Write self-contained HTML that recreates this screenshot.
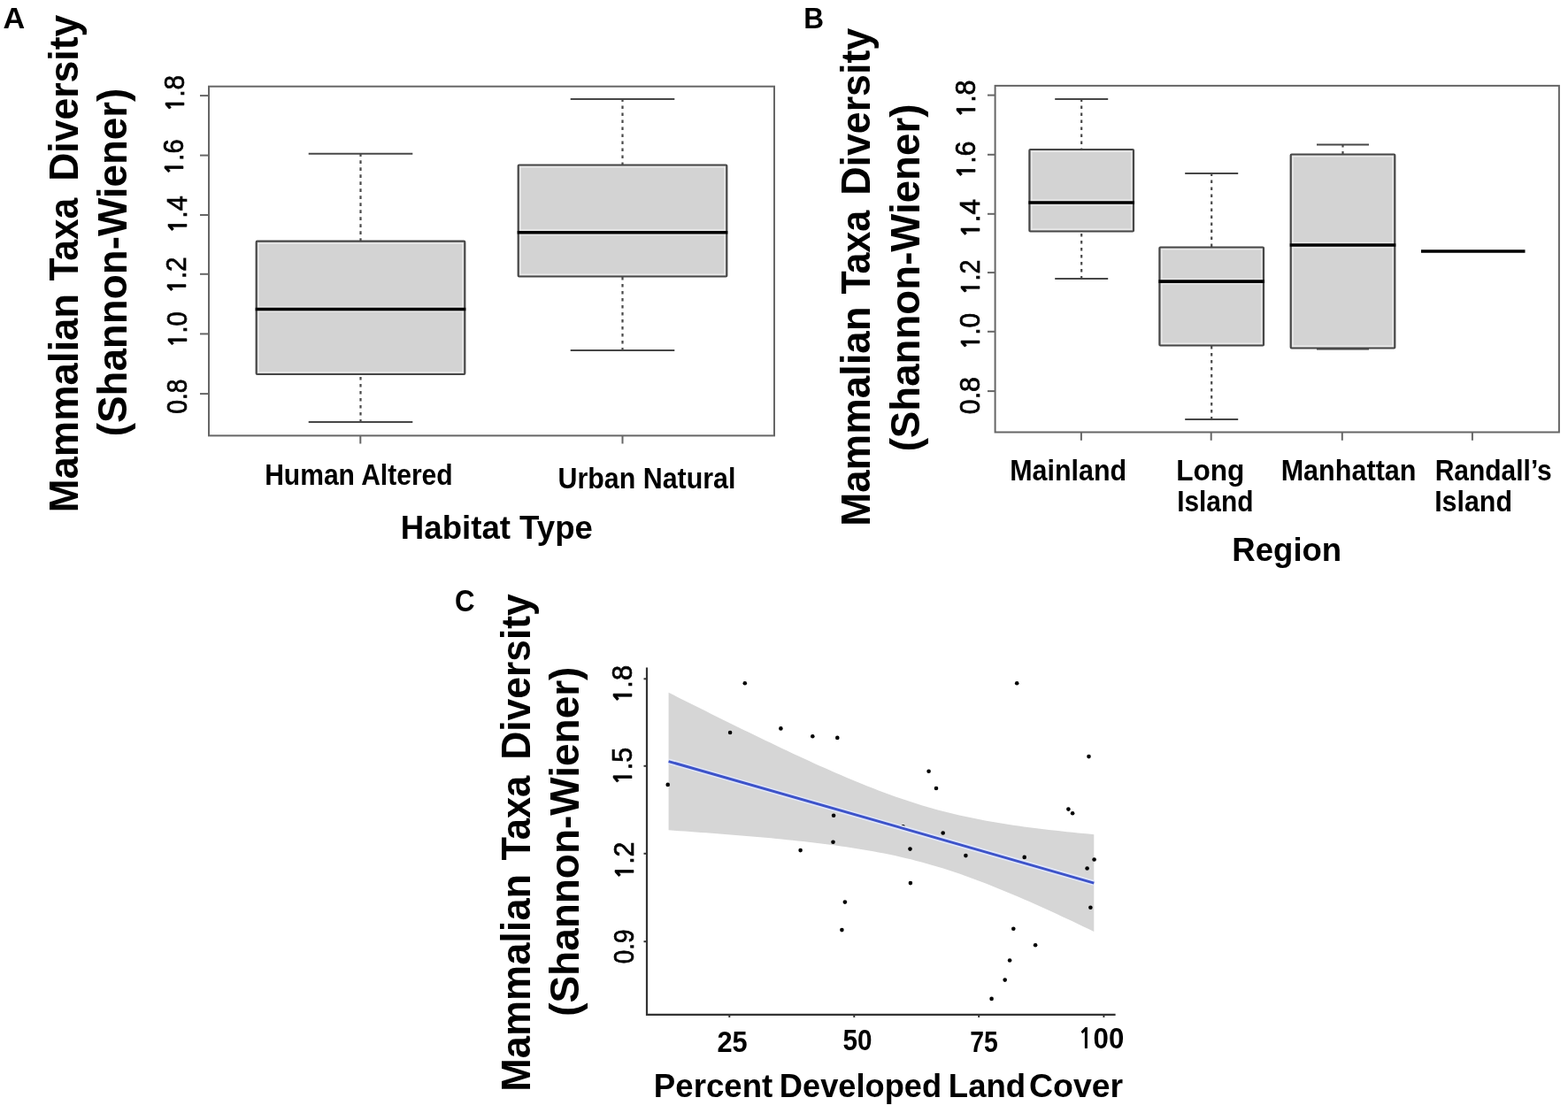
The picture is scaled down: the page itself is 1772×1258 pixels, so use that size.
<!DOCTYPE html>
<html><head><meta charset="utf-8"><title>Mammalian taxa diversity figure</title>
<style>
html,body{margin:0;padding:0;background:#fff;}
svg{display:block;}
text{font-family:"Liberation Sans",Arial,Helvetica,sans-serif;fill:#000;}
text.tick{stroke:#000;stroke-width:0.7px;}
tspan.one{font-family:"NanumGothic","Liberation Sans",sans-serif;font-weight:bold;font-size:92.7%;}
text.tick tspan.one{stroke-width:0.6px;}
</style></head>
<body>
<svg width="1772" height="1258" viewBox="0 0 1772 1258">
<rect x="0" y="0" width="1772" height="1258" fill="#fff"/>
<rect x="236" y="97.7" width="639" height="394.7" fill="none" stroke="#666" stroke-width="2"/>
<line x1="226" y1="108.1" x2="236" y2="108.1" stroke="#666" stroke-width="2"/>
<line x1="226" y1="175.6" x2="236" y2="175.6" stroke="#666" stroke-width="2"/>
<line x1="226" y1="243.0" x2="236" y2="243.0" stroke="#666" stroke-width="2"/>
<line x1="226" y1="309.8" x2="236" y2="309.8" stroke="#666" stroke-width="2"/>
<line x1="226" y1="377.4" x2="236" y2="377.4" stroke="#666" stroke-width="2"/>
<line x1="226" y1="445.1" x2="236" y2="445.1" stroke="#666" stroke-width="2"/>
<line x1="407.3" y1="492.4" x2="407.3" y2="501.5" stroke="#666" stroke-width="2"/>
<line x1="703.5" y1="492.4" x2="703.5" y2="501.5" stroke="#666" stroke-width="2"/>
<line x1="407.5" y1="173.8" x2="407.5" y2="272.7" stroke="#4a4a4a" stroke-width="2.2" stroke-dasharray="3.6 4.4" stroke-dashoffset="0.5"/>
<line x1="348.7" y1="173.8" x2="466.3" y2="173.8" stroke="#474747" stroke-width="2"/>
<line x1="407.5" y1="477.0" x2="407.5" y2="423.0" stroke="#4a4a4a" stroke-width="2.2" stroke-dasharray="3.6 4.4" stroke-dashoffset="0.5"/>
<line x1="348.7" y1="477.0" x2="466.3" y2="477.0" stroke="#474747" stroke-width="2"/>
<rect x="289.7" y="272.7" width="235.6" height="150.3" fill="#d3d3d3"/>
<rect x="292.0" y="275.0" width="231" height="145.7" fill="none" stroke="#e8e8e8" stroke-width="1.6"/>
<line x1="290.7" y1="346.8" x2="524.3" y2="346.8" stroke="#e6e6e6" stroke-width="1.6"/>
<line x1="290.7" y1="352.2" x2="524.3" y2="352.2" stroke="#e6e6e6" stroke-width="1.6"/>
<rect x="289.7" y="272.7" width="235.6" height="150.3" fill="none" stroke="#474747" stroke-width="2.2" rx="1"/>
<line x1="288.7" y1="349.5" x2="526.3" y2="349.5" stroke="#000" stroke-width="3.6"/>
<line x1="703.5" y1="112.0" x2="703.5" y2="186.5" stroke="#4a4a4a" stroke-width="2.2" stroke-dasharray="3.6 4.4" stroke-dashoffset="0.5"/>
<line x1="644.7" y1="112.0" x2="762.3" y2="112.0" stroke="#474747" stroke-width="2"/>
<line x1="703.5" y1="396.0" x2="703.5" y2="312.5" stroke="#4a4a4a" stroke-width="2.2" stroke-dasharray="3.6 4.4" stroke-dashoffset="0.5"/>
<line x1="644.7" y1="396.0" x2="762.3" y2="396.0" stroke="#474747" stroke-width="2"/>
<rect x="585.7" y="186.5" width="235.6" height="126.0" fill="#d3d3d3"/>
<rect x="588.0" y="188.8" width="231" height="121.4" fill="none" stroke="#e8e8e8" stroke-width="1.6"/>
<line x1="586.7" y1="260.1" x2="820.3" y2="260.1" stroke="#e6e6e6" stroke-width="1.6"/>
<line x1="586.7" y1="265.5" x2="820.3" y2="265.5" stroke="#e6e6e6" stroke-width="1.6"/>
<rect x="585.7" y="186.5" width="235.6" height="126.0" fill="none" stroke="#474747" stroke-width="2.2" rx="1"/>
<line x1="584.7" y1="262.8" x2="822.3" y2="262.8" stroke="#000" stroke-width="3.6"/>
<rect x="1124.6" y="96.9" width="637.3" height="391.6" fill="none" stroke="#666" stroke-width="2"/>
<line x1="1116" y1="107.6" x2="1124.6" y2="107.6" stroke="#666" stroke-width="2"/>
<line x1="1116" y1="174.8" x2="1124.6" y2="174.8" stroke="#666" stroke-width="2"/>
<line x1="1116" y1="241.8" x2="1124.6" y2="241.8" stroke="#666" stroke-width="2"/>
<line x1="1116" y1="308.1" x2="1124.6" y2="308.1" stroke="#666" stroke-width="2"/>
<line x1="1116" y1="374.8" x2="1124.6" y2="374.8" stroke="#666" stroke-width="2"/>
<line x1="1116" y1="442.1" x2="1124.6" y2="442.1" stroke="#666" stroke-width="2"/>
<line x1="1221.9" y1="488.5" x2="1221.9" y2="497.8" stroke="#666" stroke-width="2"/>
<line x1="1368.7" y1="488.5" x2="1368.7" y2="497.8" stroke="#666" stroke-width="2"/>
<line x1="1516.8" y1="488.5" x2="1516.8" y2="497.8" stroke="#666" stroke-width="2"/>
<line x1="1663.9" y1="488.5" x2="1663.9" y2="497.8" stroke="#666" stroke-width="2"/>
<line x1="1222.2" y1="112.0" x2="1222.2" y2="169.0" stroke="#4a4a4a" stroke-width="2.2" stroke-dasharray="3.6 4.4" stroke-dashoffset="0.5"/>
<line x1="1192.2" y1="112.0" x2="1252.2" y2="112.0" stroke="#474747" stroke-width="2"/>
<line x1="1222.2" y1="315.0" x2="1222.2" y2="261.5" stroke="#4a4a4a" stroke-width="2.2" stroke-dasharray="3.6 4.4" stroke-dashoffset="0.5"/>
<line x1="1192.2" y1="315.0" x2="1252.2" y2="315.0" stroke="#474747" stroke-width="2"/>
<rect x="1163.4" y="169.0" width="117.6" height="92.5" fill="#d3d3d3"/>
<rect x="1165.7" y="171.3" width="113" height="87.9" fill="none" stroke="#e8e8e8" stroke-width="1.6"/>
<line x1="1164.4" y1="226.3" x2="1280.0" y2="226.3" stroke="#e6e6e6" stroke-width="1.6"/>
<line x1="1164.4" y1="231.7" x2="1280.0" y2="231.7" stroke="#e6e6e6" stroke-width="1.6"/>
<rect x="1163.4" y="169.0" width="117.6" height="92.5" fill="none" stroke="#474747" stroke-width="2.2" rx="1"/>
<line x1="1162.4" y1="229.0" x2="1282.0" y2="229.0" stroke="#000" stroke-width="3.6"/>
<line x1="1369.2" y1="196.0" x2="1369.2" y2="279.5" stroke="#4a4a4a" stroke-width="2.2" stroke-dasharray="3.6 4.4" stroke-dashoffset="0.5"/>
<line x1="1339.2" y1="196.0" x2="1399.2" y2="196.0" stroke="#474747" stroke-width="2"/>
<line x1="1369.2" y1="474.0" x2="1369.2" y2="390.5" stroke="#4a4a4a" stroke-width="2.2" stroke-dasharray="3.6 4.4" stroke-dashoffset="0.5"/>
<line x1="1339.2" y1="474.0" x2="1399.2" y2="474.0" stroke="#474747" stroke-width="2"/>
<rect x="1310.4" y="279.5" width="117.6" height="111.0" fill="#d3d3d3"/>
<rect x="1312.7" y="281.8" width="113" height="106.4" fill="none" stroke="#e8e8e8" stroke-width="1.6"/>
<line x1="1311.4" y1="315.4" x2="1427.0" y2="315.4" stroke="#e6e6e6" stroke-width="1.6"/>
<line x1="1311.4" y1="320.8" x2="1427.0" y2="320.8" stroke="#e6e6e6" stroke-width="1.6"/>
<rect x="1310.4" y="279.5" width="117.6" height="111.0" fill="none" stroke="#474747" stroke-width="2.2" rx="1"/>
<line x1="1309.4" y1="318.1" x2="1429.0" y2="318.1" stroke="#000" stroke-width="3.6"/>
<line x1="1517.5" y1="163.5" x2="1517.5" y2="174.5" stroke="#4a4a4a" stroke-width="2.2" stroke-dasharray="3.6 4.4" stroke-dashoffset="0.5"/>
<line x1="1488.0" y1="163.5" x2="1547.0" y2="163.5" stroke="#474747" stroke-width="2"/>
<line x1="1517.5" y1="394.5" x2="1517.5" y2="393.5" stroke="#4a4a4a" stroke-width="2.2" stroke-dasharray="3.6 4.4" stroke-dashoffset="0.5"/>
<line x1="1488.0" y1="394.5" x2="1547.0" y2="394.5" stroke="#474747" stroke-width="2"/>
<rect x="1458.7" y="174.5" width="117.6" height="219.0" fill="#d3d3d3"/>
<rect x="1461.0" y="176.8" width="113" height="214.4" fill="none" stroke="#e8e8e8" stroke-width="1.6"/>
<line x1="1459.7" y1="274.3" x2="1575.3" y2="274.3" stroke="#e6e6e6" stroke-width="1.6"/>
<line x1="1459.7" y1="279.7" x2="1575.3" y2="279.7" stroke="#e6e6e6" stroke-width="1.6"/>
<rect x="1458.7" y="174.5" width="117.6" height="219.0" fill="none" stroke="#474747" stroke-width="2.2" rx="1"/>
<line x1="1457.7" y1="277.0" x2="1577.3" y2="277.0" stroke="#000" stroke-width="3.6"/>
<line x1="1606" y1="284" x2="1723.5" y2="284" stroke="#000" stroke-width="3.6"/>
<polygon points="755.60,782.74 761.68,785.81 767.77,788.88 773.85,791.94 779.94,794.99 786.02,798.04 792.11,801.08 798.19,804.12 804.28,807.14 810.36,810.17 816.45,813.18 822.53,816.19 828.62,819.18 834.70,822.17 840.79,825.15 846.87,828.12 852.96,831.07 859.04,834.02 865.13,836.95 871.21,839.87 877.30,842.78 883.38,845.67 889.47,848.54 895.55,851.40 901.64,854.24 907.72,857.06 913.81,859.85 919.89,862.63 925.97,865.38 932.06,868.10 938.14,870.80 944.23,873.47 950.31,876.10 956.40,878.70 962.48,881.27 968.57,883.79 974.65,886.28 980.74,888.72 986.82,891.11 992.91,893.46 998.99,895.75 1005.08,898.00 1011.16,900.18 1017.25,902.31 1023.33,904.37 1029.42,906.37 1035.50,908.31 1041.59,910.19 1047.67,911.99 1053.76,913.73 1059.84,915.41 1065.93,917.02 1072.01,918.56 1078.09,920.04 1084.18,921.45 1090.26,922.81 1096.35,924.11 1102.43,925.35 1108.52,926.54 1114.60,927.67 1120.69,928.76 1126.77,929.80 1132.86,930.79 1138.94,931.75 1145.03,932.67 1151.11,933.55 1157.20,934.39 1163.28,935.21 1169.37,935.99 1175.45,936.75 1181.54,937.48 1187.62,938.19 1193.71,938.87 1199.79,939.53 1205.88,940.18 1211.96,940.80 1218.05,941.41 1224.13,942.00 1230.22,942.57 1236.30,943.14 1236.30,1052.96 1230.22,1050.04 1224.13,1047.14 1218.05,1044.25 1211.96,1041.37 1205.88,1038.52 1199.79,1035.68 1193.71,1032.86 1187.62,1030.06 1181.54,1027.29 1175.45,1024.54 1169.37,1021.81 1163.28,1019.12 1157.20,1016.45 1151.11,1013.82 1145.03,1011.22 1138.94,1008.65 1132.86,1006.13 1126.77,1003.64 1120.69,1001.20 1114.60,998.81 1108.52,996.46 1102.43,994.17 1096.35,991.93 1090.26,989.74 1084.18,987.62 1078.09,985.55 1072.01,983.55 1065.93,981.61 1059.84,979.74 1053.76,977.93 1047.67,976.19 1041.59,974.52 1035.50,972.91 1029.42,971.37 1023.33,969.89 1017.25,968.47 1011.16,967.12 1005.08,965.82 998.99,964.58 992.91,963.40 986.82,962.26 980.74,961.17 974.65,960.14 968.57,959.14 962.48,958.18 956.40,957.27 950.31,956.39 944.23,955.54 938.14,954.73 932.06,953.94 925.97,953.19 919.89,952.46 913.81,951.75 907.72,951.07 901.64,950.40 895.55,949.76 889.47,949.14 883.38,948.53 877.30,947.94 871.21,947.36 865.13,946.80 859.04,946.25 852.96,945.72 846.87,945.19 840.79,944.68 834.70,944.18 828.62,943.68 822.53,943.20 816.45,942.72 810.36,942.26 804.28,941.80 798.19,941.35 792.11,940.90 786.02,940.46 779.94,940.03 773.85,939.60 767.77,939.18 761.68,938.76 755.60,938.35" fill="#d6d6d6"/>
<circle cx="841.8" cy="772.2" r="2.3" fill="#000"/>
<circle cx="1149.2" cy="772.2" r="2.3" fill="#000"/>
<circle cx="825.1" cy="828.0" r="2.3" fill="#000"/>
<circle cx="882.4" cy="823.4" r="2.3" fill="#000"/>
<circle cx="918.3" cy="832.2" r="2.3" fill="#000"/>
<circle cx="946.3" cy="833.9" r="2.3" fill="#000"/>
<circle cx="1230.5" cy="855.1" r="2.3" fill="#000"/>
<circle cx="754.7" cy="886.9" r="2.3" fill="#000"/>
<circle cx="1049.6" cy="871.7" r="2.3" fill="#000"/>
<circle cx="1058.0" cy="891.0" r="2.3" fill="#000"/>
<circle cx="1207.4" cy="914.6" r="2.3" fill="#000"/>
<circle cx="1212.1" cy="919.3" r="2.3" fill="#000"/>
<circle cx="942.1" cy="921.8" r="2.3" fill="#000"/>
<circle cx="1020.5" cy="934.4" r="2.3" fill="#000"/>
<circle cx="1065.7" cy="941.5" r="2.3" fill="#000"/>
<circle cx="941.5" cy="951.7" r="2.3" fill="#000"/>
<circle cx="904.6" cy="961.1" r="2.3" fill="#000"/>
<circle cx="1028.5" cy="959.6" r="2.3" fill="#000"/>
<circle cx="1091.4" cy="967.1" r="2.3" fill="#000"/>
<circle cx="1157.7" cy="968.9" r="2.3" fill="#000"/>
<circle cx="1236.6" cy="971.5" r="2.3" fill="#000"/>
<circle cx="1228.6" cy="981.5" r="2.3" fill="#000"/>
<circle cx="1028.9" cy="998.1" r="2.3" fill="#000"/>
<circle cx="954.9" cy="1019.6" r="2.3" fill="#000"/>
<circle cx="1232.4" cy="1025.7" r="2.3" fill="#000"/>
<circle cx="951.4" cy="1051.1" r="2.3" fill="#000"/>
<circle cx="1145.3" cy="1049.8" r="2.3" fill="#000"/>
<circle cx="1170.1" cy="1068.2" r="2.3" fill="#000"/>
<circle cx="1141.1" cy="1085.5" r="2.3" fill="#000"/>
<circle cx="1135.7" cy="1107.6" r="2.3" fill="#000"/>
<circle cx="1120.6" cy="1128.9" r="2.3" fill="#000"/>
<line x1="755.6" y1="860.55" x2="1236.3" y2="998.05" stroke="#e2e8fa" stroke-width="6.2"/>
<line x1="755.6" y1="860.55" x2="1236.3" y2="998.05" stroke="#3d53c9" stroke-width="2.9"/>
<polyline points="731,754.6 731,1146.8 1260.6,1146.8" fill="none" stroke="#333" stroke-width="2.2"/>
<line x1="727.5" y1="767.3" x2="731" y2="767.3" stroke="#333" stroke-width="2"/>
<line x1="727.5" y1="865.8" x2="731" y2="865.8" stroke="#333" stroke-width="2"/>
<line x1="727.5" y1="964.8" x2="731" y2="964.8" stroke="#333" stroke-width="2"/>
<line x1="727.5" y1="1064.2" x2="731" y2="1064.2" stroke="#333" stroke-width="2"/>
<line x1="824.3" y1="1146.8" x2="824.3" y2="1150" stroke="#333" stroke-width="2"/>
<line x1="965.3" y1="1146.8" x2="965.3" y2="1150" stroke="#333" stroke-width="2"/>
<line x1="1106.2" y1="1146.8" x2="1106.2" y2="1150" stroke="#333" stroke-width="2"/>
<line x1="1247.4" y1="1146.8" x2="1247.4" y2="1150" stroke="#333" stroke-width="2"/>
<text id="labA" x="3.51" y="31.65" font-size="32.85" font-weight="bold" textLength="24.71" lengthAdjust="spacingAndGlyphs">A</text>
<text id="tA1a" transform="translate(87.95,579.26) rotate(-90)" x="0" y="0" font-size="46.51" font-weight="bold" textLength="247.36" lengthAdjust="spacingAndGlyphs">Mammalian</text>
<text id="tA1b" transform="translate(87.95,317.47) rotate(-90)" x="0" y="0" font-size="46.51" font-weight="bold" textLength="93.73" lengthAdjust="spacingAndGlyphs">Taxa</text>
<text id="tA1c" transform="translate(87.95,204.76) rotate(-90)" x="0" y="0" font-size="46.51" font-weight="bold" textLength="187.96" lengthAdjust="spacingAndGlyphs">Diversity</text>
<text id="tA2" transform="translate(142.95,493.33) rotate(-90)" x="0" y="0" font-size="46.51" font-weight="bold" textLength="393.70" lengthAdjust="spacingAndGlyphs">(Shannon-Wiener)</text>
<text id="yA18" class="tick" transform="translate(207.75,126.48) rotate(-90)" x="0" y="0" font-size="31.00" font-weight="normal" textLength="41.53" lengthAdjust="spacingAndGlyphs"><tspan class="one">1</tspan>.8</text>
<text id="yA16" class="tick" transform="translate(207.35,197.98) rotate(-90)" x="0" y="0" font-size="31.00" font-weight="normal" textLength="40.53" lengthAdjust="spacingAndGlyphs"><tspan class="one">1</tspan>.6</text>
<text id="yA14" class="tick" transform="translate(210.65,263.98) rotate(-90)" x="0" y="0" font-size="31.00" font-weight="normal" textLength="42.91" lengthAdjust="spacingAndGlyphs"><tspan class="one">1</tspan>.4</text>
<text id="yA12" class="tick" transform="translate(209.65,331.98) rotate(-90)" x="0" y="0" font-size="31.00" font-weight="normal" textLength="41.53" lengthAdjust="spacingAndGlyphs"><tspan class="one">1</tspan>.2</text>
<text id="yA10" class="tick" transform="translate(210.85,392.98) rotate(-90)" x="0" y="0" font-size="31.00" font-weight="normal" textLength="40.72" lengthAdjust="spacingAndGlyphs"><tspan class="one">1</tspan>.0</text>
<text id="yA08" class="tick" transform="translate(210.85,467.74) rotate(-90)" x="0" y="0" font-size="31.00" font-weight="normal" textLength="39.29" lengthAdjust="spacingAndGlyphs">0.8</text>
<text id="xA1" x="299.20" y="548.15" font-size="32.85" font-weight="bold" textLength="212.43" lengthAdjust="spacingAndGlyphs">Human Altered</text>
<text id="xA2" x="630.53" y="551.85" font-size="32.85" font-weight="bold" textLength="200.84" lengthAdjust="spacingAndGlyphs">Urban Natural</text>
<text id="xtA" x="452.85" y="608.85" font-size="37.79" font-weight="bold" textLength="217.02" lengthAdjust="spacingAndGlyphs">Habitat Type</text>
<text id="labB" x="908.15" y="31.95" font-size="33.58" font-weight="bold" textLength="22.77" lengthAdjust="spacingAndGlyphs">B</text>
<text id="tB1a" transform="translate(983.45,594.76) rotate(-90)" x="0" y="0" font-size="46.51" font-weight="bold" textLength="248.36" lengthAdjust="spacingAndGlyphs">Mammalian</text>
<text id="tB1b" transform="translate(983.45,332.47) rotate(-90)" x="0" y="0" font-size="46.51" font-weight="bold" textLength="94.73" lengthAdjust="spacingAndGlyphs">Taxa</text>
<text id="tB1c" transform="translate(983.45,220.76) rotate(-90)" x="0" y="0" font-size="46.51" font-weight="bold" textLength="188.96" lengthAdjust="spacingAndGlyphs">Diversity</text>
<text id="tB2" transform="translate(1038.95,510.33) rotate(-90)" x="0" y="0" font-size="46.51" font-weight="bold" textLength="392.70" lengthAdjust="spacingAndGlyphs">(Shannon-Wiener)</text>
<text id="yB18" class="tick" transform="translate(1101.85,132.98) rotate(-90)" x="0" y="0" font-size="31.00" font-weight="normal" textLength="42.53" lengthAdjust="spacingAndGlyphs"><tspan class="one">1</tspan>.8</text>
<text id="yB16" class="tick" transform="translate(1102.05,201.98) rotate(-90)" x="0" y="0" font-size="31.00" font-weight="normal" textLength="42.53" lengthAdjust="spacingAndGlyphs"><tspan class="one">1</tspan>.6</text>
<text id="yB14" class="tick" transform="translate(1107.15,268.98) rotate(-90)" x="0" y="0" font-size="31.00" font-weight="normal" textLength="43.91" lengthAdjust="spacingAndGlyphs"><tspan class="one">1</tspan>.4</text>
<text id="yB12" class="tick" transform="translate(1107.15,333.48) rotate(-90)" x="0" y="0" font-size="31.00" font-weight="normal" textLength="40.03" lengthAdjust="spacingAndGlyphs"><tspan class="one">1</tspan>.2</text>
<text id="yB10" class="tick" transform="translate(1107.15,395.48) rotate(-90)" x="0" y="0" font-size="31.00" font-weight="normal" textLength="41.72" lengthAdjust="spacingAndGlyphs"><tspan class="one">1</tspan>.0</text>
<text id="yB08" class="tick" transform="translate(1107.15,468.24) rotate(-90)" x="0" y="0" font-size="31.00" font-weight="normal" textLength="42.29" lengthAdjust="spacingAndGlyphs">0.8</text>
<text id="xB1" x="1141.16" y="542.85" font-size="33.43" font-weight="bold" textLength="131.95" lengthAdjust="spacingAndGlyphs">Mainland</text>
<text id="xB2a" x="1329.16" y="542.65" font-size="33.43" font-weight="bold" textLength="77.28" lengthAdjust="spacingAndGlyphs">Long</text>
<text id="xB2b" x="1330.16" y="578.25" font-size="33.43" font-weight="bold" textLength="86.33" lengthAdjust="spacingAndGlyphs">Island</text>
<text id="xB3" x="1447.66" y="542.75" font-size="33.43" font-weight="bold" textLength="152.83" lengthAdjust="spacingAndGlyphs">Manhattan</text>
<text id="xB4a" x="1621.66" y="542.75" font-size="33.43" font-weight="bold" textLength="132.13" lengthAdjust="spacingAndGlyphs">Randall’s</text>
<text id="xB4b" x="1621.16" y="578.35" font-size="33.43" font-weight="bold" textLength="87.83" lengthAdjust="spacingAndGlyphs">Island</text>
<text id="xtB" x="1392.35" y="633.65" font-size="37.79" font-weight="bold" textLength="123.85" lengthAdjust="spacingAndGlyphs">Region</text>
<text id="labC" x="514.08" y="691.15" font-size="35.44" font-weight="bold" textLength="22.56" lengthAdjust="spacingAndGlyphs">C</text>
<text id="tC1a" transform="translate(599.35,1233.76) rotate(-90)" x="0" y="0" font-size="46.51" font-weight="bold" textLength="245.86" lengthAdjust="spacingAndGlyphs">Mammalian</text>
<text id="tC1b" transform="translate(599.35,972.47) rotate(-90)" x="0" y="0" font-size="46.51" font-weight="bold" textLength="95.73" lengthAdjust="spacingAndGlyphs">Taxa</text>
<text id="tC1c" transform="translate(599.35,858.76) rotate(-90)" x="0" y="0" font-size="46.51" font-weight="bold" textLength="187.46" lengthAdjust="spacingAndGlyphs">Diversity</text>
<text id="tC2" transform="translate(654.35,1148.83) rotate(-90)" x="0" y="0" font-size="46.51" font-weight="bold" textLength="395.20" lengthAdjust="spacingAndGlyphs">(Shannon-Wiener)</text>
<text id="yC18" class="tick" transform="translate(714.35,794.98) rotate(-90)" x="0" y="0" font-size="31.00" font-weight="normal" textLength="43.03" lengthAdjust="spacingAndGlyphs"><tspan class="one">1</tspan>.8</text>
<text id="yC15" class="tick" transform="translate(714.35,887.48) rotate(-90)" x="0" y="0" font-size="31.00" font-weight="normal" textLength="42.72" lengthAdjust="spacingAndGlyphs"><tspan class="one">1</tspan>.5</text>
<text id="yC12" class="tick" transform="translate(715.65,993.98) rotate(-90)" x="0" y="0" font-size="31.00" font-weight="normal" textLength="42.53" lengthAdjust="spacingAndGlyphs"><tspan class="one">1</tspan>.2</text>
<text id="yC09" class="tick" transform="translate(716.05,1089.24) rotate(-90)" x="0" y="0" font-size="31.00" font-weight="normal" textLength="38.79" lengthAdjust="spacingAndGlyphs">0.9</text>
<text id="xC25" x="810.51" y="1188.75" font-size="33.14" font-weight="bold" textLength="34.23" lengthAdjust="spacingAndGlyphs">25</text>
<text id="xC50" x="952.51" y="1187.05" font-size="33.14" font-weight="bold" textLength="33.06" lengthAdjust="spacingAndGlyphs">50</text>
<text id="xC75" x="1096.17" y="1188.75" font-size="33.14" font-weight="bold" textLength="31.56" lengthAdjust="spacingAndGlyphs">75</text>
<text id="xC100" x="1218.01" y="1185.15" font-size="33.14" font-weight="bold" textLength="52.26" lengthAdjust="spacingAndGlyphs"><tspan class="one">1</tspan>00</text>
<text id="xtC1" x="738.85" y="1239.65" font-size="37.79" font-weight="bold" textLength="134.46" lengthAdjust="spacingAndGlyphs">Percent</text>
<text id="xtC2" x="880.85" y="1239.65" font-size="37.79" font-weight="bold" textLength="183.29" lengthAdjust="spacingAndGlyphs">Developed</text>
<text id="xtC3" x="1071.85" y="1239.65" font-size="37.79" font-weight="bold" textLength="87.35" lengthAdjust="spacingAndGlyphs">Land</text>
<text id="xtC4" x="1162.99" y="1239.65" font-size="37.79" font-weight="bold" textLength="106.18" lengthAdjust="spacingAndGlyphs">Cover</text>
</svg>
</body></html>
